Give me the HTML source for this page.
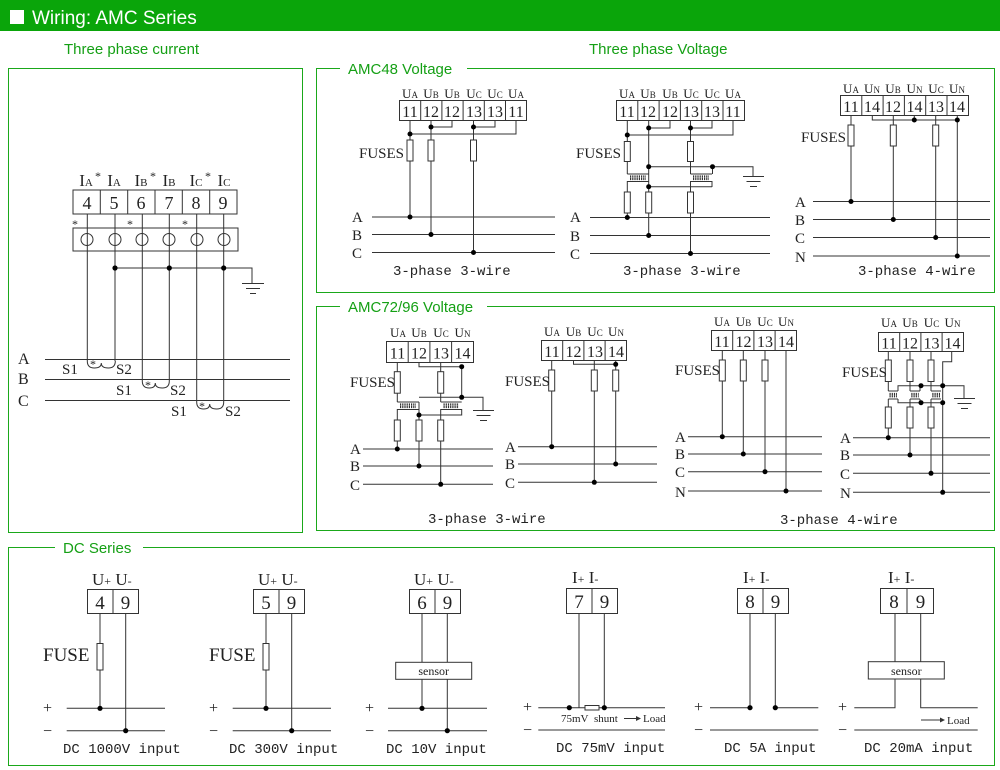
<!DOCTYPE html>
<html><head><meta charset="utf-8"><style>
html,body{margin:0;padding:0;background:#fff;}
svg{display:block;}
.w{stroke:#333;fill:none;stroke-width:1;}
.g{stroke:#1aa81a;fill:none;stroke-width:1;}
.f{stroke:#333;fill:#fff;stroke-width:1;}
.d{fill:#000;}
text{font-family:"Liberation Serif",serif;fill:#222;}
.gt{font-family:"Liberation Sans",sans-serif;fill:#15a015;font-size:15px;}
.m{font-family:"Liberation Mono",monospace;font-size:14px;fill:#222;}
.coil{stroke:#333;stroke-width:2.2;stroke-dasharray:1.2 1;fill:none;}
</style></head><body>
<svg width="1000" height="770" viewBox="0 0 1000 770" xmlns="http://www.w3.org/2000/svg">
<!-- header -->
<rect x="0" y="0" width="1000" height="31" fill="#0aa50a"/>
<rect x="10" y="10" width="14" height="14" fill="#fff"/>
<text x="32" y="24" style="font-family:'Liberation Sans',sans-serif;font-size:19px;fill:#fff">Wiring: AMC Series</text>
<text class="gt" x="64" y="54">Three phase current</text>
<text class="gt" x="589" y="54">Three phase Voltage</text>

<!-- boxes -->
<rect class="g" x="8.5" y="68.5" width="294" height="464"/>
<rect class="g" x="316.5" y="68.5" width="678" height="224"/>
<rect x="340" y="60" width="127" height="18" fill="#fff"/>
<text class="gt" x="348" y="74">AMC48 Voltage</text>
<rect class="g" x="316.5" y="306.5" width="678" height="224"/>
<rect x="340" y="298" width="147" height="18" fill="#fff"/>
<text class="gt" x="348" y="312">AMC72/96 Voltage</text>
<rect class="g" x="8.5" y="547.5" width="986" height="218"/>
<rect x="55" y="539" width="88" height="18" fill="#fff"/>
<text class="gt" x="63" y="553">DC Series</text>

<!-- ===== three phase current ===== -->
<g font-size="17" text-anchor="middle">
<text x="86" y="186">I<tspan font-size="11">A</tspan></text>
<text x="114" y="186">I<tspan font-size="11">A</tspan></text>
<text x="141" y="186">I<tspan font-size="11">B</tspan></text>
<text x="169" y="186">I<tspan font-size="11">B</tspan></text>
<text x="196" y="186">I<tspan font-size="11">C</tspan></text>
<text x="224" y="186">I<tspan font-size="11">C</tspan></text>
</g>
<g font-size="12"><text x="95" y="180">*</text><text x="150" y="180">*</text><text x="205" y="180">*</text>
<text x="72" y="228">*</text><text x="127" y="228">*</text><text x="182" y="228">*</text></g>
<rect class="w" x="73" y="190" width="164" height="24"/>
<path class="w" d="M100.3 190V214M127.7 190V214M155 190V214M182.3 190V214M209.7 190V214"/>
<g font-size="18" text-anchor="middle">
<text x="87" y="209">4</text><text x="114" y="209">5</text><text x="141" y="209">6</text><text x="169" y="209">7</text><text x="196" y="209">8</text><text x="223" y="209">9</text></g>
<rect class="w" x="73" y="228" width="165" height="23"/>
<g class="w"><circle cx="87" cy="239.5" r="6"/><circle cx="115" cy="239.5" r="6"/><circle cx="142" cy="239.5" r="6"/><circle cx="169" cy="239.5" r="6"/><circle cx="197" cy="239.5" r="6"/><circle cx="224" cy="239.5" r="6"/></g>
<path class="w" d="M87.3 214V361M115 214V361M142.3 214V381M169.3 214V381M196.7 214V402M223.7 214V402"/>
<path class="w" d="M115 268H252V283M242 283.5H264M246 288.5H260M250 293.5H256"/>
<circle class="d" cx="115" cy="268" r="2.6"/><circle class="d" cx="169.3" cy="268" r="2.6"/><circle class="d" cx="223.7" cy="268" r="2.6"/>
<path class="w" d="M45 359.5H290M45 379.5H290M45 400.5H290"/>
<g font-size="16"><text x="18" y="364">A</text><text x="18" y="384">B</text><text x="18" y="406">C</text></g>
<path class="w" d="M87.3 361q0 7 7 7q7 0 7-5q0 5 7 5q7 0 7-7"/>
<path class="w" d="M142.3 381q0 7 7 7q6 0 6-5q0 5 7 5q7 0 7-7"/>
<path class="w" d="M196.7 402q0 7 7 7q6 0 6-5q0 5 7 5q7 0 7-7"/>
<g font-size="15"><text x="62" y="374">S1</text><text x="116" y="374">S2</text><text x="90" y="368" font-size="12">*</text>
<text x="116" y="395">S1</text><text x="170" y="395">S2</text><text x="145" y="389" font-size="12">*</text>
<text x="171" y="416">S1</text><text x="225" y="416">S2</text><text x="199" y="410" font-size="12">*</text></g>

<!-- ===== AMC48 diagram 1 ===== -->
<g font-size="13" text-anchor="middle">
<text x="410" y="98">U<tspan font-size="9">A</tspan></text><text x="431" y="98">U<tspan font-size="9">B</tspan></text><text x="452" y="98">U<tspan font-size="9">B</tspan></text><text x="474" y="98">U<tspan font-size="9">C</tspan></text><text x="495" y="98">U<tspan font-size="9">C</tspan></text><text x="516" y="98">U<tspan font-size="9">A</tspan></text></g>
<rect class="w" x="399.5" y="100.5" width="127" height="20"/>
<path class="w" d="M420.7 100.5v20M441.9 100.5v20M463.1 100.5v20M484.3 100.5v20M505.5 100.5v20"/>
<g font-size="16" text-anchor="middle"><text x="410" y="117">11</text><text x="431" y="117">12</text><text x="452" y="117">12</text><text x="474" y="117">13</text><text x="495" y="117">13</text><text x="516" y="117">11</text></g>
<path class="w" d="M410 120.5V217M410 134H516V120.5M431 120.5V234M431 127H452V120.5M473.5 120.5V253M473.5 127H495V120.5"/>
<rect class="f" x="407" y="140" width="6" height="21"/><rect class="f" x="428" y="140" width="6" height="21"/><rect class="f" x="470.5" y="140" width="6" height="21"/>
<text x="359" y="158" font-size="15">FUSES</text>
<path class="w" d="M372 217H555M372 234.5H555M372 252.5H555"/>
<g font-size="15"><text x="352" y="222">A</text><text x="352" y="240">B</text><text x="352" y="258">C</text></g>
<g class="d"><circle cx="410" cy="134" r="2.5"/><circle cx="431" cy="127" r="2.5"/><circle cx="473.5" cy="127" r="2.5"/><circle cx="410" cy="217" r="2.5"/><circle cx="431" cy="234.5" r="2.5"/><circle cx="473.5" cy="252.5" r="2.5"/></g>
<text class="m" x="393" y="275">3-phase 3-wire</text>

<!-- ===== AMC48 diagram 2 ===== -->
<g font-size="13" text-anchor="middle">
<text x="627" y="98">U<tspan font-size="9">A</tspan></text><text x="648" y="98">U<tspan font-size="9">B</tspan></text><text x="670" y="98">U<tspan font-size="9">B</tspan></text><text x="691" y="98">U<tspan font-size="9">C</tspan></text><text x="712" y="98">U<tspan font-size="9">C</tspan></text><text x="733" y="98">U<tspan font-size="9">A</tspan></text></g>
<rect class="w" x="616.5" y="100.5" width="128" height="20"/>
<path class="w" d="M637.8 100.5v20M659.1 100.5v20M680.4 100.5v20M701.7 100.5v20M723 100.5v20"/>
<g font-size="16" text-anchor="middle"><text x="627" y="117">11</text><text x="648" y="117">12</text><text x="670" y="117">12</text><text x="691" y="117">13</text><text x="712" y="117">13</text><text x="733" y="117">11</text></g>
<path class="w" d="M627.3 120.5V174M627.3 181V218M627.3 135H733V120.5M648.7 120.5V236M648.7 128H670V120.5M690.5 120.5V174M690.5 181V253.5M690.5 128H712V120.5"/>
<path class="w" d="M627.3 174H648.7M627.3 181.5H648.7M690.5 174H712M690.5 181.5H712V187M648.7 186.7H712M648.7 166.7H712.5V174M712.5 166.7H753V176M743 176.5H764M746.5 181.5H760.5M750 186.5H757"/>
<path class="coil" d="M630 176.5H646M630 179H646M693 176.5H709M693 179H709"/>
<rect class="f" x="624.3" y="141.5" width="6" height="20"/><rect class="f" x="687.5" y="141.5" width="6" height="20"/>
<rect class="f" x="624.3" y="192" width="6" height="21"/><rect class="f" x="645.7" y="192" width="6" height="21"/><rect class="f" x="687.5" y="192" width="6" height="21"/>
<text x="576" y="158" font-size="15">FUSES</text>
<path class="w" d="M590 217.5H770M590 235.5H770M590 253.5H770"/>
<g font-size="15"><text x="570" y="222">A</text><text x="570" y="241">B</text><text x="570" y="259">C</text></g>
<g class="d"><circle cx="627.3" cy="135" r="2.5"/><circle cx="648.7" cy="128" r="2.5"/><circle cx="690.5" cy="128" r="2.5"/><circle cx="648.7" cy="166.7" r="2.5"/><circle cx="712.5" cy="166.7" r="2.5"/><circle cx="648.7" cy="186.7" r="2.5"/><circle cx="627.3" cy="217.5" r="2.5"/><circle cx="648.7" cy="235.5" r="2.5"/><circle cx="690.5" cy="253.5" r="2.5"/></g>
<text class="m" x="623" y="275">3-phase 3-wire</text>

<!-- ===== AMC48 diagram 3 ===== -->
<g font-size="13" text-anchor="middle">
<text x="851" y="93">U<tspan font-size="9">A</tspan></text><text x="872" y="93">U<tspan font-size="9">N</tspan></text><text x="893" y="93">U<tspan font-size="9">B</tspan></text><text x="914.5" y="93">U<tspan font-size="9">N</tspan></text><text x="936" y="93">U<tspan font-size="9">C</tspan></text><text x="957" y="93">U<tspan font-size="9">N</tspan></text></g>
<rect class="w" x="840.5" y="95.5" width="128" height="20"/>
<path class="w" d="M861.8 95.5v20M883.1 95.5v20M904.4 95.5v20M925.7 95.5v20M947 95.5v20"/>
<g font-size="16" text-anchor="middle"><text x="851" y="112">11</text><text x="872" y="112">14</text><text x="893" y="112">12</text><text x="914.5" y="112">14</text><text x="936" y="112">13</text><text x="957" y="112">14</text></g>
<path class="w" d="M851 115.5V202M872.3 115.5V120H957.3M914.3 115.5V120M957.3 115.5V256M893.3 115.5V219.5M935.7 115.5V237.5"/>
<rect class="f" x="848" y="125" width="6" height="21"/><rect class="f" x="890.3" y="125" width="6" height="21"/><rect class="f" x="932.7" y="125" width="6" height="21"/>
<text x="801" y="142" font-size="15">FUSES</text>
<path class="w" d="M813 201.5H990M813 219.5H990M813 237.5H990M813 256H990"/>
<g font-size="15"><text x="795" y="207">A</text><text x="795" y="225">B</text><text x="795" y="243">C</text><text x="795" y="262">N</text></g>
<g class="d"><circle cx="914.3" cy="120" r="2.5"/><circle cx="957.3" cy="120" r="2.5"/><circle cx="851" cy="201.5" r="2.5"/><circle cx="893.3" cy="219.5" r="2.5"/><circle cx="935.7" cy="237.5" r="2.5"/><circle cx="957.3" cy="256" r="2.5"/></g>
<text class="m" x="858" y="275">3-phase 4-wire</text>

<!-- ===== AMC72 diagram 1 ===== -->
<g font-size="13" text-anchor="middle">
<text x="398" y="337">U<tspan font-size="9">A</tspan></text><text x="419" y="337">U<tspan font-size="9">B</tspan></text><text x="441" y="337">U<tspan font-size="9">C</tspan></text><text x="462.5" y="337">U<tspan font-size="9">N</tspan></text></g>
<rect class="w" x="386.5" y="341.5" width="87" height="21"/>
<path class="w" d="M408.2 341.5v21M429.9 341.5v21M451.6 341.5v21"/>
<g font-size="16" text-anchor="middle"><text x="397.5" y="358.5">11</text><text x="419" y="358.5">12</text><text x="441" y="358.5">13</text><text x="462.5" y="358.5">14</text></g>
<path class="w" d="M397.3 362.5V402M397.3 409V449M419 362.5V366.7H461.7V397.3M419 397.3H483V410M419 402V466M440.7 362.5V402M440.7 409V484.3M419 415H461.7V409M397.3 402H419M397.3 409.5H419M440.7 402H461.7M440.7 409.5H461.7"/>
<path class="w" d="M473 410.5H494M476.5 415.5H490.5M480 420.5H487"/>
<path class="coil" d="M400 404.5H416M400 407H416M443.5 404.5H459M443.5 407H459"/>
<rect class="f" x="394.3" y="371.7" width="6" height="21.5"/><rect class="f" x="437.7" y="371.7" width="6" height="21.5"/>
<rect class="f" x="394.3" y="420" width="6" height="21"/><rect class="f" x="416" y="420" width="6" height="21"/><rect class="f" x="437.7" y="420" width="6" height="21"/>
<text x="350" y="387" font-size="15">FUSES</text>
<path class="w" d="M363 449H493M363 466H493M363 484.3H493"/>
<g font-size="15"><text x="350" y="454">A</text><text x="350" y="471">B</text><text x="350" y="490">C</text></g>
<g class="d"><circle cx="461.7" cy="366.7" r="2.5"/><circle cx="461.7" cy="397.3" r="2.5"/><circle cx="419" cy="415" r="2.5"/><circle cx="397.3" cy="449" r="2.5"/><circle cx="419" cy="466" r="2.5"/><circle cx="440.7" cy="484.3" r="2.5"/></g>
<text class="m" x="428" y="523">3-phase 3-wire</text>

<!-- ===== AMC72 diagram 2 ===== -->
<g font-size="13" text-anchor="middle">
<text x="552" y="336">U<tspan font-size="9">A</tspan></text><text x="573.5" y="336">U<tspan font-size="9">B</tspan></text><text x="595" y="336">U<tspan font-size="9">C</tspan></text><text x="616" y="336">U<tspan font-size="9">N</tspan></text></g>
<rect class="w" x="541.5" y="340.5" width="85" height="20"/>
<path class="w" d="M562.7 340.5v20M583.9 340.5v20M605.1 340.5v20"/>
<g font-size="16" text-anchor="middle"><text x="552" y="357">11</text><text x="573.5" y="357">12</text><text x="595" y="357">13</text><text x="616" y="357">14</text></g>
<path class="w" d="M551.7 360.5V446.7M573.5 360.5V364.3H615.7M615.7 360.5V464M594.3 360.5V482.3"/>
<rect class="f" x="548.7" y="370" width="6" height="21"/><rect class="f" x="591.3" y="370" width="6" height="21"/><rect class="f" x="612.7" y="370" width="6" height="21"/>
<text x="505" y="386" font-size="15">FUSES</text>
<path class="w" d="M518 446.7H657M518 464H657M518 482.3H657"/>
<g font-size="15"><text x="505" y="452">A</text><text x="505" y="469">B</text><text x="505" y="488">C</text></g>
<g class="d"><circle cx="615.7" cy="364.3" r="2.5"/><circle cx="551.7" cy="446.7" r="2.5"/><circle cx="615.7" cy="464" r="2.5"/><circle cx="594.3" cy="482.3" r="2.5"/></g>

<!-- ===== AMC72 diagram 3 ===== -->
<g font-size="13" text-anchor="middle">
<text x="722" y="326">U<tspan font-size="9">A</tspan></text><text x="743.5" y="326">U<tspan font-size="9">B</tspan></text><text x="765" y="326">U<tspan font-size="9">C</tspan></text><text x="786" y="326">U<tspan font-size="9">N</tspan></text></g>
<rect class="w" x="711.5" y="330.5" width="85" height="20"/>
<path class="w" d="M732.7 330.5v20M753.9 330.5v20M775.1 330.5v20"/>
<g font-size="16" text-anchor="middle"><text x="722" y="347">11</text><text x="743.5" y="347">12</text><text x="765" y="347">13</text><text x="786" y="347">14</text></g>
<path class="w" d="M722.3 350.5V436.7M743.3 350.5V454M765 350.5V471.7M786 350.5V491"/>
<rect class="f" x="719.3" y="360" width="6" height="21"/><rect class="f" x="740.3" y="360" width="6" height="21"/><rect class="f" x="762" y="360" width="6" height="21"/>
<text x="675" y="375" font-size="15">FUSES</text>
<path class="w" d="M688 436.7H822M688 454H822M688 471.7H822M688 491H822"/>
<g font-size="15"><text x="675" y="442">A</text><text x="675" y="459">B</text><text x="675" y="477">C</text><text x="675" y="497">N</text></g>
<g class="d"><circle cx="722.3" cy="436.7" r="2.5"/><circle cx="743.3" cy="454" r="2.5"/><circle cx="765" cy="471.7" r="2.5"/><circle cx="786" cy="491" r="2.5"/></g>

<!-- ===== AMC72 diagram 4 ===== -->
<g font-size="13" text-anchor="middle">
<text x="889" y="327">U<tspan font-size="9">A</tspan></text><text x="910" y="327">U<tspan font-size="9">B</tspan></text><text x="931.5" y="327">U<tspan font-size="9">C</tspan></text><text x="952.5" y="327">U<tspan font-size="9">N</tspan></text></g>
<rect class="w" x="878.5" y="332.5" width="85" height="19"/>
<path class="w" d="M899.7 332.5v19M920.9 332.5v19M942.1 332.5v19"/>
<g font-size="16" text-anchor="middle"><text x="889" y="348.5">11</text><text x="910" y="348.5">12</text><text x="931.5" y="348.5">13</text><text x="952.5" y="348.5">14</text></g>
<path class="w" d="M888.3 351.5V391M888.3 399V437.7M910 351.5V391M910 399V455M931 351.5V391M931 399V473.3M951.7 351.5V361.7H942.7V492.3"/>
<path class="w" d="M898 391V385.7H964V398M920 391V385.7M898 399V402.7H942.7M920 399V402.7M888.3 391H898M888.3 399H898M910 391H920M910 399H920M931 391H941M931 399H941"/>
<path class="w" d="M954 398.5H975M957.5 403.5H971.5M961 408.5H968"/>
<path class="coil" d="M889.5 394H897M889.5 396.3H897M911.3 394H918.7M911.3 396.3H918.7M932.3 394H940M932.3 396.3H940"/>
<rect class="f" x="885.3" y="360" width="6" height="21.5"/><rect class="f" x="907" y="360" width="6" height="21.5"/><rect class="f" x="928" y="360" width="6" height="21.5"/>
<rect class="f" x="885.3" y="407" width="6" height="21"/><rect class="f" x="907" y="407" width="6" height="21"/><rect class="f" x="928" y="407" width="6" height="21"/>
<text x="842" y="377" font-size="15">FUSES</text>
<path class="w" d="M853 437.7H990M853 455H990M853 473.3H990M853 492.3H990"/>
<g font-size="15"><text x="840" y="443">A</text><text x="840" y="460">B</text><text x="840" y="479">C</text><text x="840" y="498">N</text></g>
<g class="d"><circle cx="921" cy="385.7" r="2.5"/><circle cx="942.7" cy="385.7" r="2.5"/><circle cx="921" cy="402.7" r="2.5"/><circle cx="942.7" cy="402.7" r="2.5"/><circle cx="888.3" cy="437.7" r="2.5"/><circle cx="910" cy="455" r="2.5"/><circle cx="931" cy="473.3" r="2.5"/><circle cx="942.7" cy="492.3" r="2.5"/></g>
<text class="m" x="780" y="524">3-phase 4-wire</text>

<!-- ===== DC series ===== -->
<!-- 1 -->
<text x="92" y="585" font-size="17">U<tspan font-size="12">+</tspan> U<tspan font-size="12">-</tspan></text>
<rect class="w" x="87.5" y="589.5" width="51" height="24"/><path class="w" d="M113 589.5v24"/>
<g font-size="19" text-anchor="middle"><text x="100" y="609">4</text><text x="125.5" y="609">9</text></g>
<path class="w" d="M100 613.5V708M125.7 613.5V731"/>
<rect class="f" x="97" y="643.5" width="6" height="26.5"/>
<text x="43" y="661" font-size="19">FUSE</text>
<path class="w" d="M66.7 708.3H165M66.7 730.7H165"/>
<g font-size="16"><text x="43" y="713">+</text><text x="43" y="736">−</text></g>
<circle class="d" cx="100" cy="708.3" r="2.6"/><circle class="d" cx="125.7" cy="730.7" r="2.6"/>
<text class="m" x="63" y="753">DC 1000V input</text>
<!-- 2 -->
<text x="258" y="585" font-size="17">U<tspan font-size="12">+</tspan> U<tspan font-size="12">-</tspan></text>
<rect class="w" x="253.5" y="589.5" width="51" height="24"/><path class="w" d="M279 589.5v24"/>
<g font-size="19" text-anchor="middle"><text x="266" y="609">5</text><text x="291.5" y="609">9</text></g>
<path class="w" d="M266 613.5V708M291.7 613.5V731"/>
<rect class="f" x="263" y="643.5" width="6" height="26.5"/>
<text x="209" y="661" font-size="19">FUSE</text>
<path class="w" d="M232.7 708.3H331M232.7 730.7H331"/>
<g font-size="16"><text x="209" y="713">+</text><text x="209" y="736">−</text></g>
<circle class="d" cx="266" cy="708.3" r="2.6"/><circle class="d" cx="291.7" cy="730.7" r="2.6"/>
<text class="m" x="229" y="753">DC 300V input</text>
<!-- 3 -->
<text x="414" y="585" font-size="17">U<tspan font-size="12">+</tspan> U<tspan font-size="12">-</tspan></text>
<rect class="w" x="409.5" y="589.5" width="51" height="24"/><path class="w" d="M435 589.5v24"/>
<g font-size="19" text-anchor="middle"><text x="422" y="609">6</text><text x="447.5" y="609">9</text></g>
<path class="w" d="M422 613.5V708M447.3 613.5V731"/>
<rect class="f" x="395.7" y="662.3" width="76" height="17"/>
<text x="433.7" y="675" font-size="12" text-anchor="middle">sensor</text>
<path class="w" d="M388 708.3H487M388 730.7H487"/>
<g font-size="16"><text x="365" y="713">+</text><text x="365" y="736">−</text></g>
<circle class="d" cx="422" cy="708.3" r="2.6"/><circle class="d" cx="447.3" cy="730.7" r="2.6"/>
<text class="m" x="386" y="753">DC 10V input</text>
<!-- 4 -->
<text x="572" y="583" font-size="17">I<tspan font-size="12">+</tspan> I<tspan font-size="12">-</tspan></text>
<rect class="w" x="566.5" y="588.5" width="51" height="25"/><path class="w" d="M592 588.5v25"/>
<g font-size="19" text-anchor="middle"><text x="579" y="608">7</text><text x="604.5" y="608">9</text></g>
<path class="w" d="M579 613.5V707.7M604.3 613.5V707.7"/>
<path class="w" d="M538.3 707.7H665M538.3 730H665"/>
<rect class="f" x="585" y="705.5" width="14" height="4.5"/>
<g font-size="16"><text x="523" y="712">+</text><text x="523" y="735">−</text></g>
<circle class="d" cx="569.3" cy="707.7" r="2.6"/><circle class="d" cx="604.3" cy="707.7" r="2.6"/>
<text x="561" y="722" font-size="11">75mV</text><text x="594" y="722" font-size="11">shunt</text>
<path class="w" d="M624 718.5H638"/><path d="M636 716L641 718.5L636 721Z" fill="#333"/>
<text x="643" y="722" font-size="11">Load</text>
<text class="m" x="556" y="752">DC 75mV input</text>
<!-- 5 -->
<text x="743" y="583" font-size="17">I<tspan font-size="12">+</tspan> I<tspan font-size="12">-</tspan></text>
<rect class="w" x="737.5" y="588.5" width="51" height="25"/><path class="w" d="M763 588.5v25"/>
<g font-size="19" text-anchor="middle"><text x="750" y="608">8</text><text x="775.5" y="608">9</text></g>
<path class="w" d="M750 613.5V707.7M775.3 613.5V707.7"/>
<path class="w" d="M710 707.7H750M775.3 707.7H818.3M710 730H818.3"/>
<g font-size="16"><text x="694" y="712">+</text><text x="694" y="735">−</text></g>
<circle class="d" cx="750" cy="707.7" r="2.6"/><circle class="d" cx="775.3" cy="707.7" r="2.6"/>
<text class="m" x="724" y="752">DC 5A input</text>
<!-- 6 -->
<text x="888" y="583" font-size="17">I<tspan font-size="12">+</tspan> I<tspan font-size="12">-</tspan></text>
<rect class="w" x="880.5" y="588.5" width="53" height="25"/><path class="w" d="M907 588.5v25"/>
<g font-size="19" text-anchor="middle"><text x="894" y="608">8</text><text x="920.5" y="608">9</text></g>
<path class="w" d="M895 613.5V662M920.7 613.5V662M895 679V707.7H854.3M920.7 679V707.7H977.7M854.3 730H977.7"/>
<rect class="f" x="868.3" y="661.7" width="76" height="17.3"/>
<text x="906.3" y="675" font-size="12" text-anchor="middle">sensor</text>
<g font-size="16"><text x="838" y="712">+</text><text x="838" y="735">−</text></g>
<path class="w" d="M921 720H942"/><path d="M940 717.5L945 720L940 722.5Z" fill="#333"/>
<text x="947" y="724" font-size="11">Load</text>
<text class="m" x="864" y="752">DC 20mA input</text>
</svg>
</body></html>
